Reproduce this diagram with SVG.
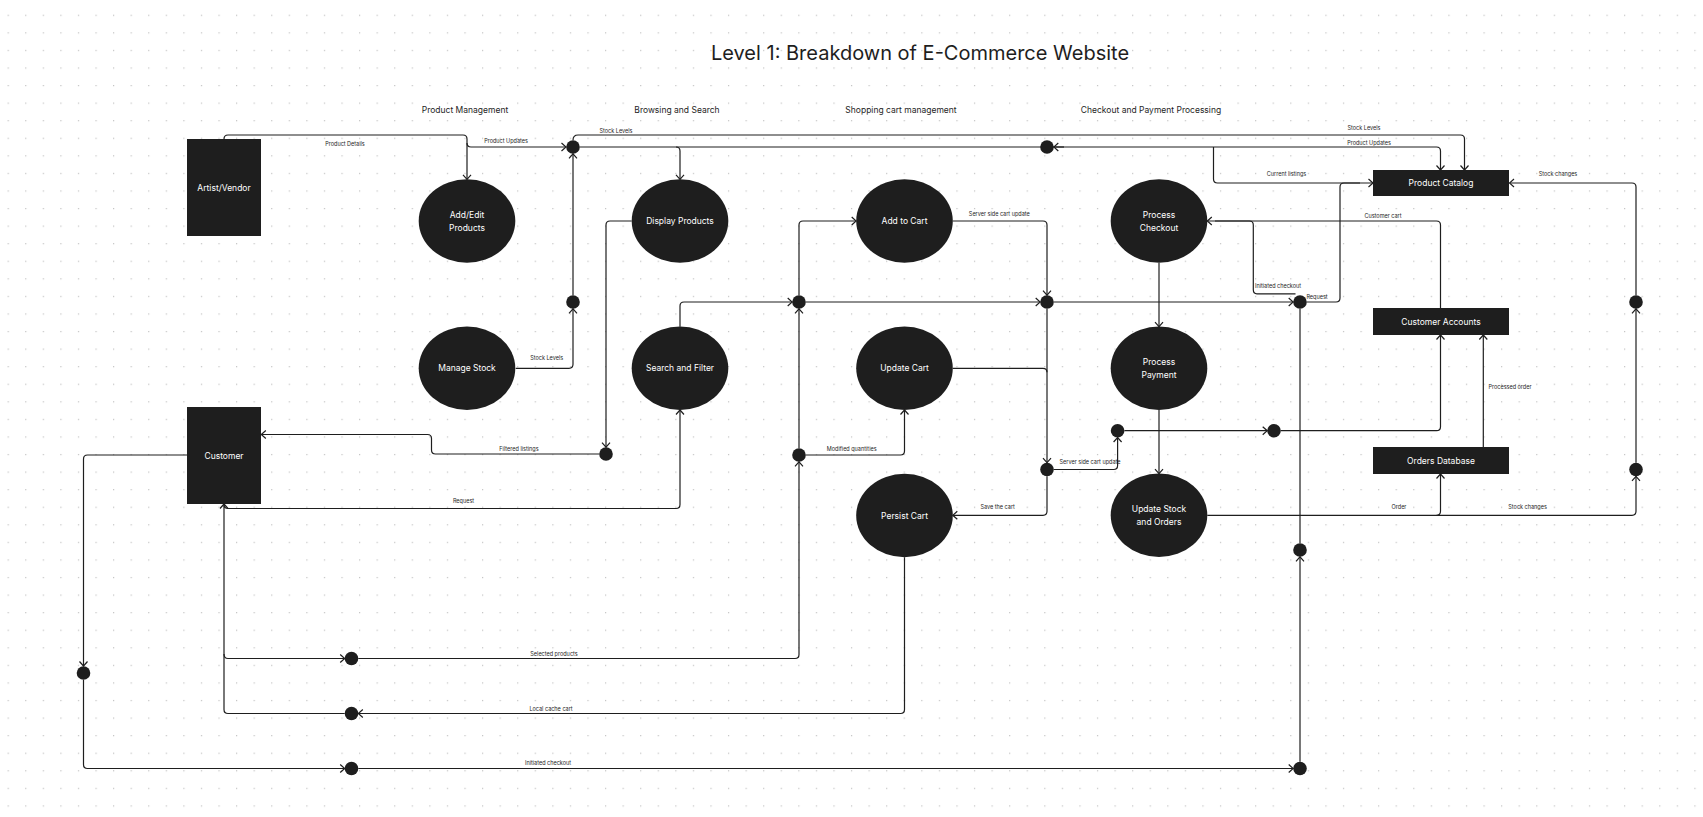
<svg xmlns="http://www.w3.org/2000/svg" width="1703" height="817" viewBox="0 0 1703 817">
<defs>
<pattern id="grid" x="7.6" y="14.7" width="17.57" height="17.57" patternUnits="userSpaceOnUse"><rect x="0" y="0" width="1.2" height="1.2" fill="#c2c2c2"/></pattern>
<marker id="arr" viewBox="-6 -5 7 10" refX="0" refY="0" markerWidth="7" markerHeight="10" markerUnits="userSpaceOnUse" orient="auto"><path d="M-4.5,-4 L0,0 L-4.5,4" fill="none" stroke="#1e1e1e" stroke-width="1.2"/></marker>
<style>
.bg{fill:#ffffff}
.node{fill:#1e1e1e}
.nt{font-family:Inter,"Liberation Sans",sans-serif;font-size:8.5px;fill:#ffffff;text-anchor:middle;dominant-baseline:central}
.hd{font-family:Inter,"Liberation Sans",sans-serif;font-size:8.5px;fill:#1e1e1e;text-anchor:middle;dominant-baseline:central}
.title{font-family:Inter,"Liberation Sans",sans-serif;font-size:20px;fill:#1e1e1e;text-anchor:middle}
.lb{font-family:Inter,"Liberation Sans",sans-serif;font-size:5.5px;fill:#1e1e1e;text-anchor:middle;dominant-baseline:central}
.c{fill:none;stroke:#1e1e1e;stroke-width:1.2}
.a{marker-end:url(#arr)}
.dot{fill:#1e1e1e}
</style>
</defs>
<rect class="bg" width="1703" height="817"/>
<rect width="1703" height="817" fill="url(#grid)"/>

<text class="title" x="920" y="60">Level 1: Breakdown of E-Commerce Website</text>
<g id="headers">
<text class="hd" x="465" y="109.5">Product Management</text>
<text class="hd" x="677" y="109.5">Browsing and Search</text>
<text class="hd" x="901" y="109.5">Shopping cart management</text>
<text class="hd" x="1151" y="109.5">Checkout and Payment Processing</text>
</g>

<g id="connectors">
<path class="c a" d="M224,139 V139 Q224,135 228,135 H463 Q467,135 467,139 V179.3"/>
<path class="c a" d="M467,143 Q467,147 471,147 H566"/>
<path class="c a" d="M573,140.2 Q573,135 578,135 H1460.5 Q1464.5,135 1464.5,139 V170"/>
<path class="c a" d="M579.8,147 H1436.5 Q1440.5,147 1440.5,151 V170"/>
<path class="c a" d="M1064,147 H1053.8"/>
<path class="c a" d="M676,147 Q680,147 680,151 V179.3"/>
<path class="c a" d="M1213.5,147 V179 Q1213.5,183 1217.5,183 H1373"/>
<path class="c" d="M1306.8,302 H1336 Q1340,302 1340,298 V187 Q1340,183 1344,183 H1360"/>
<path class="c a" d="M1636,295.2 V187 Q1636,183 1632,183 H1509.5"/>
<path class="c a" d="M1636,462.7 V308.8"/>
<path class="c a" d="M1207.3,515.3 H1632 Q1636,515.3 1636,511.3 V476.3"/>
<path class="c a" d="M1436.5,515.3 Q1440.5,515.3 1440.5,511.3 V474"/>
<path class="c a" d="M1483.3,447 V335"/>
<path class="c a" d="M1440.5,308 V225 Q1440.5,221 1436.5,221 H1207.3"/>
<path class="c" d="M1295.5,293.8 H1257 Q1253.3,293.8 1253.3,289.8 V225 Q1253.3,221 1249.3,221 H1215"/>
<path class="c a" d="M1159,262.7 V326.7"/>
<path class="c a" d="M1159,410 V473.6"/>
<path class="c a" d="M1124.4,430.7 H1267.2"/>
<path class="c a" d="M1280.8,430.7 H1436.5 Q1440.5,430.7 1440.5,426.7 V335"/>
<path class="c a" d="M1053.8,469.5 H1113.6 Q1117.6,469.5 1117.6,465.5 V437.5"/>
<path class="c a" d="M1047,476.3 V511.3 Q1047,515.3 1043,515.3 H952.8"/>
<path class="c a" d="M1047,308.8 V462.7"/>
<path class="c" d="M952.8,368.3 H1043 Q1047,368.3 1047,372.3"/>
<path class="c a" d="M952.8,221 H1043 Q1047,221 1047,225 V295.2"/>
<path class="c a" d="M805.8,302 H1040.2"/>
<path class="c a" d="M1053.8,302 H1293.2"/>
<path class="c a" d="M680,326.7 V306 Q680,302 684,302 H792.2"/>
<path class="c a" d="M799,295.2 V225 Q799,221 803,221 H856.2"/>
<path class="c a" d="M799,448.2 V308.8"/>
<path class="c a" d="M805.8,455 H900.5 Q904.5,455 904.5,451 V410"/>
<path class="c a" d="M904.5,557.3 V709.5 Q904.5,713.5 900.5,713.5 H358.3"/>
<path class="c a" d="M344.7,713.5 H228 Q224,713.5 224,709.5 V504"/>
<path class="c a" d="M224,654 Q224,658.5 228,658.5 H344.7"/>
<path class="c a" d="M358.3,658.5 H795 Q799,658.5 799,654.5 V461.8"/>
<path class="c a" d="M224,504.5 Q224,508.5 228,508.5 H676 Q680,508.5 680,504.5 V410"/>
<path class="c a" d="M631.7,221 H610 Q606,221 606,225 V447.2"/>
<path class="c a" d="M599.2,454 H435.5 Q431.5,454 431.5,450 V438.5 Q431.5,434.5 427.5,434.5 H261.3"/>
<path class="c a" d="M515.7,368.3 H569 Q573,368.3 573,364.3 V308.8"/>
<path class="c a" d="M573,295.2 V153.8"/>
<path class="c a" d="M187,455 H87.5 Q83.5,455 83.5,459 V666"/>
<path class="c a" d="M83.5,679.8 V764.5 Q83.5,768.5 87.5,768.5 H344.7"/>
<path class="c a" d="M358.3,768.5 H1293.2"/>
<path class="c a" d="M1300,761.7 V556.8"/>
<path class="c" d="M1300,543.2 V308.8"/>
</g>

<g id="labels">
<text class="lb" x="345" y="143.7">Product Details</text>
<text class="lb" x="506" y="141">Product Updates</text>
<text class="lb" x="616" y="131">Stock Levels</text>
<text class="lb" x="1364" y="127.7">Stock Levels</text>
<text class="lb" x="1369" y="142.5">Product Updates</text>
<text class="lb" x="1286.5" y="174.3">Current listings</text>
<text class="lb" x="1558" y="174.3">Stock changes</text>
<text class="lb" x="1383" y="216">Customer cart</text>
<text class="lb" x="1278" y="286.2">Initiated checkout</text>
<text class="lb" x="1317" y="296.5">Request</text>
<text class="lb" x="999.3" y="214">Server side cart update</text>
<text class="lb" x="1090" y="461.7">Server side cart update</text>
<text class="lb" x="1510" y="387.3">Processed order</text>
<text class="lb" x="1399" y="507">Order</text>
<text class="lb" x="1527.6" y="507">Stock changes</text>
<text class="lb" x="997.7" y="507">Save the cart</text>
<text class="lb" x="851.7" y="449">Modified quantities</text>
<text class="lb" x="519" y="449">Filtered listings</text>
<text class="lb" x="546.7" y="358">Stock Levels</text>
<text class="lb" x="463.5" y="500.7">Request</text>
<text class="lb" x="554" y="653.7">Selected products</text>
<text class="lb" x="551" y="708.7">Local cache cart</text>
<text class="lb" x="548" y="763.3">Initiated checkout</text>
</g>

<g id="junctions">
<circle class="dot" cx="573" cy="147" r="6.8"/>
<circle class="dot" cx="573" cy="302" r="6.8"/>
<circle class="dot" cx="1047" cy="147" r="6.8"/>
<circle class="dot" cx="799" cy="302" r="6.8"/>
<circle class="dot" cx="1047" cy="302" r="6.8"/>
<circle class="dot" cx="1300" cy="302" r="6.8"/>
<circle class="dot" cx="1636" cy="302" r="6.8"/>
<circle class="dot" cx="606" cy="454" r="6.8"/>
<circle class="dot" cx="799" cy="455" r="6.8"/>
<circle class="dot" cx="1047" cy="469.5" r="6.8"/>
<circle class="dot" cx="1117.6" cy="430.7" r="6.8"/>
<circle class="dot" cx="1274" cy="430.7" r="6.8"/>
<circle class="dot" cx="1636" cy="469.5" r="6.8"/>
<circle class="dot" cx="1300" cy="550" r="6.8"/>
<circle class="dot" cx="83.5" cy="673" r="6.8"/>
<circle class="dot" cx="351.5" cy="658.5" r="6.8"/>
<circle class="dot" cx="351.5" cy="713.5" r="6.8"/>
<circle class="dot" cx="351.5" cy="768.5" r="6.8"/>
<circle class="dot" cx="1300" cy="768.5" r="6.8"/>
</g>

<g id="artist-vendor"><rect class="node" x="187" y="139" width="74" height="97"/><text class="nt" x="224" y="188">Artist/Vendor</text></g>
<g id="customer"><rect class="node" x="187" y="407" width="74" height="97"/><text class="nt" x="224" y="456">Customer</text></g>
<g id="product-catalog"><rect class="node" x="1373" y="170" width="136" height="26"/><text class="nt" x="1441" y="183">Product Catalog</text></g>
<g id="customer-accounts"><rect class="node" x="1373" y="308" width="136" height="27"/><text class="nt" x="1441" y="321.5">Customer Accounts</text></g>
<g id="orders-database"><rect class="node" x="1373" y="447" width="136" height="27"/><text class="nt" x="1441" y="460.5">Orders Database</text></g>

<g id="add-edit-products"><ellipse class="node" cx="467" cy="221" rx="48.3" ry="41.7"/><text class="nt" x="467" y="215.3">Add/Edit</text><text class="nt" x="467" y="227.7">Products</text></g>
<g id="manage-stock"><ellipse class="node" cx="467" cy="368.3" rx="48.3" ry="41.7"/><text class="nt" x="467" y="368.3">Manage Stock</text></g>
<g id="display-products"><ellipse class="node" cx="680" cy="221" rx="48.3" ry="41.7"/><text class="nt" x="680" y="221">Display Products</text></g>
<g id="search-filter"><ellipse class="node" cx="680" cy="368.3" rx="48.3" ry="41.7"/><text class="nt" x="680" y="368.3">Search and Filter</text></g>
<g id="add-to-cart"><ellipse class="node" cx="904.5" cy="221" rx="48.3" ry="41.7"/><text class="nt" x="904.5" y="221">Add to Cart</text></g>
<g id="update-cart"><ellipse class="node" cx="904.5" cy="368.3" rx="48.3" ry="41.7"/><text class="nt" x="904.5" y="368.3">Update Cart</text></g>
<g id="persist-cart"><ellipse class="node" cx="904.5" cy="515.5" rx="48.3" ry="41.7"/><text class="nt" x="904.5" y="515.5">Persist Cart</text></g>
<g id="process-checkout"><ellipse class="node" cx="1159" cy="221" rx="48.3" ry="41.7"/><text class="nt" x="1159" y="215.3">Process</text><text class="nt" x="1159" y="227.7">Checkout</text></g>
<g id="process-payment"><ellipse class="node" cx="1159" cy="368.3" rx="48.3" ry="41.7"/><text class="nt" x="1159" y="362.3">Process</text><text class="nt" x="1159" y="375">Payment</text></g>
<g id="update-stock-orders"><ellipse class="node" cx="1159" cy="515.3" rx="48.3" ry="41.7"/><text class="nt" x="1159" y="509.2">Update Stock</text><text class="nt" x="1159" y="521.8">and Orders</text></g>
</svg>
